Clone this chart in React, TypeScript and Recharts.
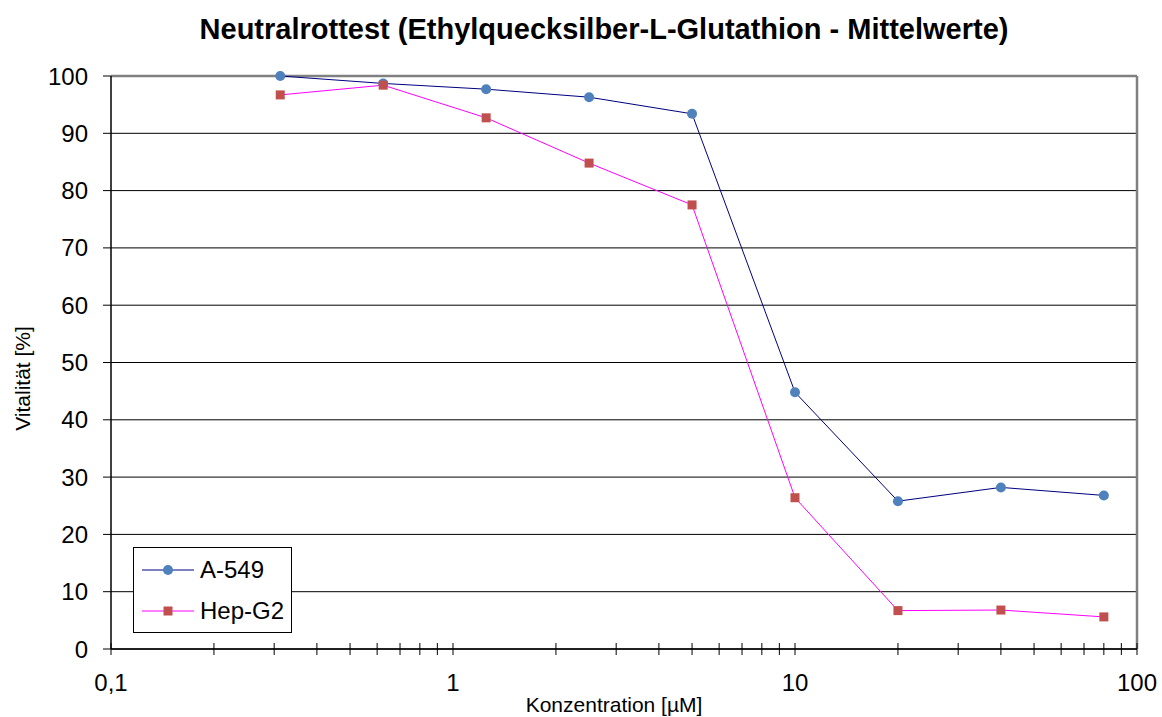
import React from "react";
import {
  LineChart,
  Line,
  XAxis,
  YAxis,
  CartesianGrid,
  ReferenceLine,
  Label,
} from "recharts";

const concentrations = [0.3125, 0.625, 1.25, 2.5, 5, 10, 20, 40, 80];
const a549 = [100, 98.7, 97.7, 96.3, 93.4, 44.8, 25.8, 28.2, 26.8];
const hepg2 = [96.7, 98.4, 92.7, 84.8, 77.5, 26.4, 6.7, 6.8, 5.6];
const xTicks = [
  0.1, 0.2, 0.3, 0.4, 0.5, 0.6, 0.7, 0.8, 0.9,
  1, 2, 3, 4, 5, 6, 7, 8, 9,
  10, 20, 30, 40, 50, 60, 70, 80, 90, 100,
];
const majorLabels: Record<string, string> = { "0.1": "0,1", "1": "1", "10": "10", "100": "100" };
const yTicks = [0, 10, 20, 30, 40, 50, 60, 70, 80, 90, 100];
const seriesNames = ["A-549", "Hep-G2"];

const data = concentrations.map((c, i) => ({ x: c, a549: a549[i], hepg2: hepg2[i] }));

const FONT = "'Liberation Sans', Arial, sans-serif";

const XTick = (props: any) => {
  const { x, y, payload } = props;
  const label = majorLabels[String(payload.value)];
  return (
    <g>
      <line x1={x} x2={x} y1={y - 6} y2={y + 6} stroke="#000" strokeWidth={1} />
      {label !== undefined && (
        <text x={x} y={y + 42} textAnchor="middle" fontSize={24} fontFamily={FONT} fill="#000">
          {label}
        </text>
      )}
    </g>
  );
};

const SquareDot = (props: any) => {
  const { cx, cy, index } = props;
  if (cx == null || cy == null) return <g key={index} />;
  return <rect key={index} x={cx - 4.5} y={cy - 4.5} width={9} height={9} fill="#C0504D" />;
};

const YTitle = (props: any) => {
  const vb = props.viewBox || { y: 76, height: 573 };
  const cx = 22;
  const cy = vb.y + vb.height / 2 + 16;
  return (
    <text
      x={cx}
      y={cy}
      transform={`rotate(-90 ${cx} ${cy})`}
      textAnchor="middle"
      dominantBaseline="central"
      fontSize={21}
      fontFamily={FONT}
      fill="#000"
    >
      Vitalität [%]
    </text>
  );
};

const LegendBox = () => (
  <div
    style={{
      position: "absolute",
      left: 133,
      top: 547,
      width: 159,
      height: 86,
      border: "1px solid #000",
      background: "#fff",
      fontFamily: FONT,
      fontSize: 24,
      boxSizing: "border-box",
      zIndex: 3,
      color: "#000",
    }}
  >
    <div style={{ display: "flex", alignItems: "center", height: 26, marginTop: 9 }}>
      <svg width={66} height={20}>
        <line x1={8} x2={60} y1={10} y2={10} stroke="#000080" strokeWidth={1} />
        <circle cx={34} cy={10} r={5} fill="#4F81BD" />
      </svg>
      <span>{seriesNames[0]}</span>
    </div>
    <div style={{ display: "flex", alignItems: "center", height: 26, marginTop: 15 }}>
      <svg width={66} height={20}>
        <line x1={8} x2={60} y1={10} y2={10} stroke="#FF00FF" strokeWidth={1} />
        <rect x={29.5} y={5.5} width={9} height={9} fill="#C0504D" />
      </svg>
      <span>{seriesNames[1]}</span>
    </div>
  </div>
);

export default function App() {
  return (
    <div style={{ position: "absolute", left: 0, top: 0, width: 1162, height: 717, background: "#fff" }}>
      <div
        style={{
          position: "absolute",
          left: 0,
          top: 13,
          width: 1208,
          textAlign: "center",
          fontFamily: FONT,
          fontWeight: "bold",
          fontSize: 29,
          color: "#000",
          zIndex: 2,
        }}
      >
        Neutralrottest (Ethylquecksilber-L-Glutathion - Mittelwerte)
      </div>
      <div
        style={{
          position: "absolute",
          left: 0,
          top: 693,
          width: 1228,
          textAlign: "center",
          fontFamily: FONT,
          fontSize: 21,
          color: "#000",
          zIndex: 2,
        }}
      >
        Konzentration [µM]
      </div>
      <LegendBox />
      <LineChart
        width={1162}
        height={717}
        data={data}
        margin={{ top: 76, right: 25, bottom: 0, left: 0 }}
      >
        <CartesianGrid horizontal vertical={false} stroke="#000" strokeWidth={1} />
        <XAxis
          dataKey="x"
          type="number"
          scale="log"
          domain={[0.1, 100]}
          ticks={xTicks}
          interval={0}
          allowDataOverflow
          tickSize={0}
          tickMargin={0}
          tickLine={false}
          tick={<XTick />}
          axisLine={{ stroke: "#000", strokeWidth: 1.5 }}
          height={68}
        />
        <YAxis
          type="number"
          domain={[0, 100]}
          ticks={yTicks}
          interval={0}
          width={111}
          tickSize={8}
          tickMargin={15}
          tickLine={{ stroke: "#000" }}
          axisLine={{ stroke: "#000", strokeWidth: 1.5 }}
          tick={{ fontSize: 24, fontFamily: FONT, fill: "#000" }}
        >
          <Label content={<YTitle />} position="insideLeft" />
        </YAxis>
        <ReferenceLine y={100} stroke="#808080" strokeWidth={2.5} ifOverflow="visible" />
        <ReferenceLine x={100} stroke="#808080" strokeWidth={2.5} ifOverflow="visible" />
        <Line
          type="linear"
          dataKey="a549"
          name={seriesNames[0]}
          stroke="#000080"
          strokeWidth={1}
          dot={{ r: 5, fill: "#4F81BD", stroke: "none" }}
          activeDot={false}
          isAnimationActive={false}
        />
        <Line
          type="linear"
          dataKey="hepg2"
          name={seriesNames[1]}
          stroke="#FF00FF"
          strokeWidth={1}
          dot={<SquareDot />}
          activeDot={false}
          isAnimationActive={false}
        />
      </LineChart>
    </div>
  );
}
